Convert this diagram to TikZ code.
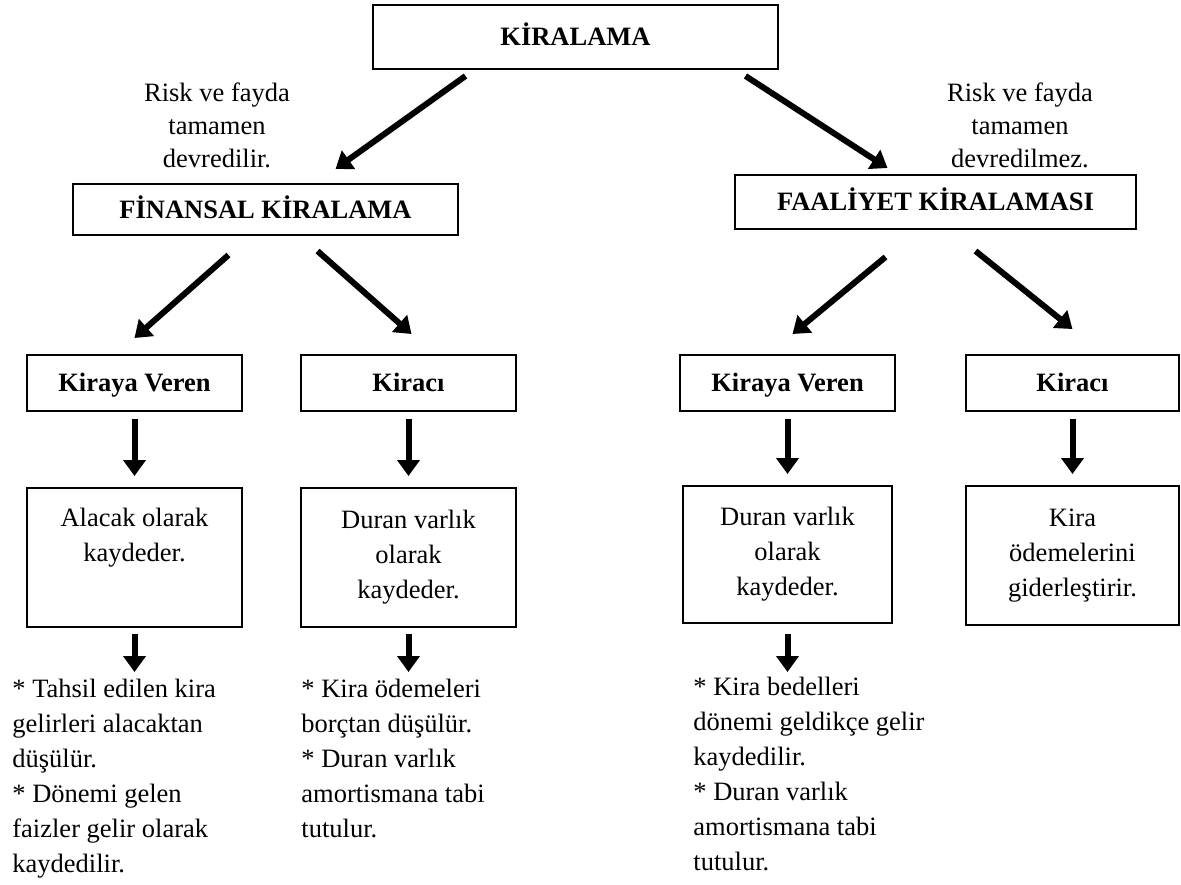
\documentclass[tikz,border=0pt]{standalone}
\usepackage{fontspec}
\setmainfont{Liberation Serif}
\usetikzlibrary{arrows.meta,positioning,calc}

\begin{document}
\begin{tikzpicture}[
  x=0.5pt, y=-0.5pt,
  >={Triangle[length=8pt,width=11pt]},
  font=\fontsize{13.25}{17.5}\selectfont,
  head/.style={rectangle, draw=black, line width=1pt, font=\fontsize{13.25}{17.5}\selectfont\bfseries, inner sep=0pt, text height=10pt, text depth=1.5pt},
  side/.style={rectangle, draw=black, line width=1pt, font=\fontsize{13.25}{17.5}\selectfont\bfseries, inner sep=0pt, text height=10pt, text depth=1.5pt, minimum width=107.5pt, minimum height=28pt},
  entry/.style={rectangle, draw=black, line width=1pt, align=center, inner sep=0pt, minimum width=107.5pt, minimum height=69.5pt},
  note/.style={align=left, inner sep=0pt, anchor=north west},
  remark/.style={align=center, inner sep=0pt, font=\fontsize{13.25}{16.5}\selectfont},
  arr/.style={->, line width=3pt}
]
\useasboundingbox (0,0) rectangle (1181,884);

% Top: leasing and its two kinds
\node[head, minimum width=202.5pt, minimum height=32pt] (kiralama) at (575.5,37) {KİRALAMA};
\node[head, minimum width=192.5pt, minimum height=25.5pt] (finansal) at (265.5,209.5) {FİNANSAL KİRALAMA};
\node[head, minimum width=200.5pt, minimum height=27pt] (faaliyet) at (935.5,202) {FAALİYET KİRALAMASI};

\node[remark] (riskL) at (217,125) {Risk ve fayda\\tamamen\\devredilir.};
\node[remark] (riskR) at (1020,125) {Risk ve fayda\\tamamen\\devredilmez.};

% Parties
\node[side] (verenL) at (134.5,383) {Kiraya Veren};
\node[side] (kiraciL) at (408.5,383) {Kiracı};
\node[side] (verenR) at (787.5,383) {Kiraya Veren};
\node[side, minimum width=106.5pt] (kiraciR) at (1072.5,383) {Kiracı};

% Records
\node[entry] (alacak) at (134.5,557.5) {Alacak olarak\\kaydeder.\\\strut};
\node[entry] (duranL) at (408.5,557.5) {Duran varlık\\olarak\\kaydeder.};
\node[entry, minimum width=104.5pt, minimum height=68.5pt] (duranR) at (787.5,554.5) {Duran varlık\\olarak\\kaydeder.};
\node[entry, minimum width=106.5pt] (kiraR) at (1072.5,555.5) {Kira\\ödemelerini\\giderleştirir.};

% Notes
\node[note] (tahsil) at (12,679) {* Tahsil edilen kira\\gelirleri alacaktan\\düşülür.\\* Dönemi gelen\\faizler gelir olarak\\kaydedilir.};
\node[note] (odeme) at (301,679) {* Kira ödemeleri\\borçtan düşülür.\\* Duran varlık\\amortismana tabi\\tutulur.};
\node[note] (bedel) at (693,677) {* Kira bedelleri\\dönemi geldikçe gelir\\kaydedilir.\\* Duran varlık\\amortismana tabi\\tutulur.};

% Arrows
\draw[arr] ($(kiralama.south)+(-110,6)$) -- ($(finansal.north)+(70,-14)$);
\draw[arr] ($(kiralama.south)+(170,6)$) -- ($(faaliyet.north)+(-48,-6)$);
\draw[arr] ($(finansal.south)+(-37,19)$) -- ($(verenL.north)+(0,-16)$);
\draw[arr] ($(finansal.south)+(52,15)$) -- ($(kiraciL.north)+(3,-20)$);
\draw[arr] ($(faaliyet.south)+(-50,27)$) -- ($(verenR.north)+(5,-20)$);
\draw[arr] ($(faaliyet.south)+(40,21)$) -- ($(kiraciR.north)+(0,-25)$);

\draw[arr, shorten <=3.5pt, shorten >=5.5pt] (verenL) -- (alacak);
\draw[arr, shorten <=3.5pt, shorten >=5.5pt] (kiraciL) -- (duranL);
\draw[arr, shorten <=3.5pt, shorten >=5.5pt] (verenR) -- (duranR);
\draw[arr, shorten <=3.5pt, shorten >=5.5pt] (kiraciR) -- (kiraR);

\draw[arr, shorten <=3pt, shorten >=3.5pt] (alacak.south) -- (alacak.south |- tahsil.north);
\draw[arr, shorten <=3pt, shorten >=3.5pt] (duranL.south) -- (duranL.south |- odeme.north);
\draw[arr, shorten <=5pt, shorten >=2.5pt] (duranR.south) -- (duranR.south |- bedel.north);

\end{tikzpicture}
\end{document}
